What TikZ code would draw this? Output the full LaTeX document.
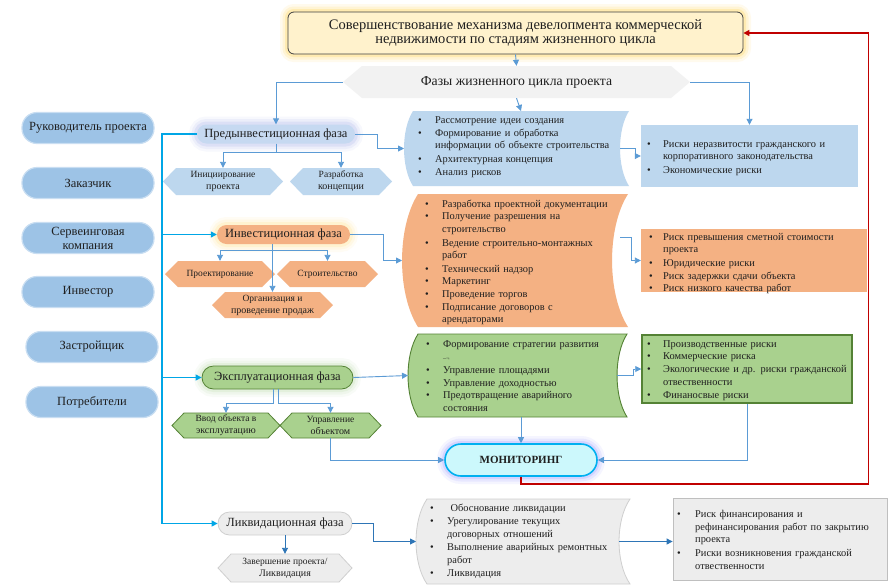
\documentclass[tikz,border=0pt]{standalone}
\usepackage{fontspec}
\setmainfont{Liberation Serif}
\usetikzlibrary{arrows.meta,calc}
\definecolor{cblue}{HTML}{BDD7EE}
\definecolor{cactor}{HTML}{9DC3E6}
\definecolor{cactorb}{HTML}{C9DEF2}
\definecolor{cpred}{HTML}{C6D9F1}
\definecolor{cpredglow}{HTML}{8E9CE6}
\definecolor{corange}{HTML}{F4B183}
\definecolor{cinvglow}{HTML}{FFD966}
\definecolor{cgreen}{HTML}{A9D18E}
\definecolor{cgreenb}{HTML}{548235}
\definecolor{cgray}{HTML}{EDEDED}
\definecolor{cgrayb}{HTML}{CFCFCF}
\definecolor{cline}{HTML}{5B9BD5}
\definecolor{clined}{HTML}{2E75B6}
\definecolor{ctrunk}{HTML}{00A6E6}
\definecolor{cmon}{HTML}{CCF8FC}
\definecolor{cmonb}{HTML}{00B0F0}
\definecolor{cred}{HTML}{C00000}
\definecolor{ctitle}{HTML}{FFF2CC}
\definecolor{ctitleglow}{HTML}{FFC000}
\definecolor{cphase}{HTML}{F2F2F2}
\definecolor{ctext}{HTML}{1F1F1F}
\newcommand\hexfont{\fontsize{9.5}{11}\selectfont}
\newcommand\bitem[2][17pt]{\par\noindent\makebox[#1][l]{\textbullet}\parbox[t]{225pt}{\raggedright\strut#2\strut}}
\newcommand\hexbox[8]{%
  \path[#7] (#2,{(#4+#5)/2}) -- ({#2+#6},#4) -- ({#3-#6},#4) -- (#3,{(#4+#5)/2}) -- ({#3-#6},#5) -- ({#2+#6},#5) -- cycle;
  \node[inner sep=0pt, minimum width={#3-#2}, minimum height={#5-#4}, align=center, text=ctext] (#1) at ({(#2+#3)/2},{(#4+#5)/2}) {#8};}
\newcommand\wavebox[7]{%
  \path[#7] (#2,#4) -- (#3,#4) .. controls ({#3-1.33*#6},{#4+(#5-#4)/4}) and ({#3-1.33*#6},{#5-(#5-#4)/4}) .. (#3,#5) -- (#2,#5) .. controls ({#2-1.33*#6},{#5-(#5-#4)/4}) and ({#2-1.33*#6},{#4+(#5-#4)/4}) .. (#2,#4) -- cycle;
  \coordinate (#1-w) at ({#2-#6},{(#4+#5)/2});
  \coordinate (#1-e) at ({#3-#6},{(#4+#5)/2});
  \coordinate (#1-n) at ({(#2+#3)/2},#4);
  \coordinate (#1-s) at ({(#2+#3)/2},#5);}
\begin{document}
\begin{tikzpicture}[x=1pt,y=-1pt,
  every node/.style={text=ctext},
  conn/.style={draw=cline, line width=0.9pt},
  arr/.style={-{Triangle[length=6pt,width=6pt]}},
  trunk/.style={draw=ctrunk, line width=1.3pt},
  redl/.style={draw=cred, line width=1.5pt},
  glow/.style={preaction={draw=#1,line width=16pt,draw opacity=0.07},
               preaction={draw=#1,line width=11pt,draw opacity=0.10},
               preaction={draw=#1,line width=6pt,draw opacity=0.16}},
  pill/.style={rectangle, inner sep=0pt, align=center, font=\fontsize{12.5}{14}\selectfont},
  actor/.style={pill, fill=cactor, draw=cactorb, line width=1.2pt, minimum width=132, minimum height=31, rounded corners=15},
  rbox/.style={rectangle, inner sep=0pt},
  ltxt/.style={inner sep=0pt, text width=250, align=left, anchor=west, font=\fontsize{10.4}{12.6}\selectfont},
]
\useasboundingbox (0,0) rectangle (896,587);
\fill[white] (0,0) rectangle (896,587);

% title
\node[pill, rounded corners=6, fill=ctitle, draw=black!75, line width=0.8pt, minimum width=455, minimum height=42, glow=ctitleglow, font=\fontsize{14.5}{13.5}\selectfont] (title) at (515.5,33) {Совершенствование механизма девелопмента коммерческой\\недвижимости по стадиям жизненного цикла};

\hexbox{phases}{343}{690}{66}{98}{19}{fill=cphase}{\fontsize{13.7}{14}\selectfont Фазы жизненного цикла проекта}

% actors
\node[actor] (a1) at (88,128) {Руководитель проекта};
\node[actor] (a2) at (88,183) {Заказчик};
\node[actor] (a3) at (88,238) {Сервеинговая\\компания};
\node[actor] (a4) at (88,292) {Инвестор};
\node[actor] (a5) at (92,347) {Застройщик};
\node[actor] (a6) at (92,402) {Потребители};

% phases
\node[pill, fill=cpred, glow=cpredglow, minimum width=158, minimum height=19, rounded corners=9.5] (pred) at (276,134) {Предынвестиционная фаза};
\node[pill, fill=corange, glow=cinvglow, minimum width=133, minimum height=19, rounded corners=9.5] (inv) at (283.5,234.5) {Инвестиционная фаза};
\node[pill, fill=cgreen, draw=cgreenb, line width=0.8pt, glow=cgreen, minimum width=151, minimum height=23, rounded corners=11.5] (exp) at (277.5,377.5) {Эксплуатационная фаза};
\node[pill, fill=cgray, draw=cgrayb, line width=0.8pt, minimum width=134, minimum height=23, rounded corners=11.5] (liq) at (285,523.5) {Ликвидационная фаза};
\node[pill, fill=cmon, draw=cmonb, line width=1.6pt, glow=blue!55, minimum width=152, minimum height=32, rounded corners=16, font=\fontsize{11}{13}\selectfont\bfseries] (mon) at (521,460) {МОНИТОРИНГ};

% sub hexes
\hexbox{iniz}{163}{283}{168}{195}{13}{fill=cblue}{\hexfont Инициирование\\проекта}
\hexbox{razr}{290}{392}{168}{195}{13}{fill=cblue}{\hexfont Разработка\\концепции}
\hexbox{proj}{165}{275}{261}{287}{13}{fill=corange}{\hexfont Проектирование}
\hexbox{stroi}{277}{378}{261}{287}{13}{fill=corange}{\hexfont Строительство}
\hexbox{org}{212}{333}{292}{318}{13}{fill=corange}{\hexfont Организация и\\проведение продаж}
\hexbox{vvod}{172}{280}{413}{438}{12}{fill=cgreen,draw=cgreenb,line width=0.8pt}{\hexfont Ввод объекта в\\эксплуатацию}
\hexbox{upr}{280}{381}{413}{438}{12}{fill=cgreen,draw=cgreenb,line width=0.8pt}{\hexfont Управление\\объектом}
\hexbox{zav}{218}{352}{554}{582}{13}{fill=cgray,draw=cgrayb,line width=0.8pt}{\hexfont Завершение проекта/\\Ликвидация}

% wave boxes
\wavebox{bw}{413}{629}{111}{186}{9}{fill=cblue}
\wavebox{ow}{418}{628}{194}{327}{16}{fill=corange}
\wavebox{gw}{418}{627}{334}{417}{10}{fill=cgreen, draw=cgreenb, line width=0.9pt}
\wavebox{lw}{427}{630}{499}{584}{11}{fill=cgray, draw=cgrayb, line width=0.8pt}

\node[ltxt] (bwt) at (418,145) {\bitem{Рассмотрение идеи создания}\bitem{Формирование и обработка\\информации об объекте строительства}\bitem{Архитектурная концепция}\bitem{Анализ рисков}};
\node[ltxt] (owt) at (425,260.5) {\bitem{Разработка проектной документации}\bitem{Получение разрешения на\\строительство}\bitem{Ведение строительно-монтажных\\работ}\bitem{Технический надзор}\bitem{Маркетинг}\bitem{Проведение торгов}\bitem{Подписание договоров с\\арендаторами}};
\node[ltxt] (gwt) at (426,375) {\bitem{Формирование стратегии развития\\{\fontsize{6}{7}\selectfont --¬}}\bitem{Управление площадями}\bitem{Управление доходностью}\bitem{Предотвращение аварийного\\состояния}};
\node[ltxt] (lwt) at (430,540) {\bitem{\ Обоснование ликвидации}\bitem{Урегулирование текущих\\договорных отношений}\bitem{Выполнение аварийных ремонтных\\работ}\bitem{Ликвидация}};

% risk boxes
\node[rbox, fill=cblue, minimum width=217, minimum height=62] (brisk) at (749.5,156) {};
\node[rbox, fill=corange, minimum width=226, minimum height=63] (orisk) at (754,260.5) {};
\node[rbox, fill=cgreen, draw=cgreenb, line width=1.5pt, minimum width=210, minimum height=68] (grisk) at (747,369) {};
\node[rbox, fill=cgray, draw=black!25, line width=0.8pt, minimum width=214, minimum height=82] (lrisk) at (780,539) {};

\node[ltxt] (brt) at (647,156) {\bitem[16pt]{Риски неразвитости гражданского и\\корпоративного законодательства}\bitem[16pt]{Экономические риски}};
\node[ltxt] (ort) at (649,261.5) {\bitem[14pt]{Риск превышения сметной стоимости\\проекта}\bitem[14pt]{Юридические риски}\bitem[14pt]{Риск задержки сдачи объекта}\bitem[14pt]{Риск низкого качества работ}};
\node[ltxt] (grt) at (647,368.5) {\bitem[16pt]{Производственные риски}\bitem[16pt]{Коммерческие риска}\bitem[16pt]{Экологические и др. риски гражданской\\отвественности}\bitem[16pt]{Финаносвые риски}};
\node[ltxt] (lrt) at (677,539) {\bitem[18pt]{Риск финансирования и\\рефинансирования работ по закрытию\\проекта}\bitem[18pt]{Риски возникновения гражданской\\отвественности}};

% connectors
\draw[conn,arr] (title.south) -- (phases.north);
\draw[conn,arr] (phases.south) -- (bw-n);
\draw[conn,arr] (phases.west) -| (pred.north);
\draw[conn,arr] (phases.east) -| (brisk.north);
\draw[conn,arr] (pred.east) -- ++(22,0) |- (bw-w);
\draw[conn,arr] (bw-e) -- ++(15,0) |- (brisk.west);
\draw[conn,arr] (pred.south) -- ++(0,9) -| (iniz.north);
\draw[conn,arr] (pred.south) -- ++(0,9) -| (razr.north);

\coordinate (tk) at (162,134);
\draw[trunk,arr] (pred.west) -| (tk |- liq.west) -- (liq.west);
\draw[trunk,arr] (tk |- inv.west) -- (inv.west);
\draw[trunk,arr] (tk |- exp.west) -- (exp.west);

\draw[conn,arr] (inv.east) -- ++(33,0) |- (ow-w);
\coordinate (ow-e2) at (620,237);
\draw[conn,arr] (ow-e2) -- ++(11,0) |- (orisk.west);
\draw[conn,arr] (inv.south -| org.north) -- (org.north);
\coordinate (invb) at ($(inv.south)+(0,6)$);
\draw[conn,arr] (invb -| org.north) -| (proj.north);
\draw[conn,arr] (invb -| org.north) -| (stroi.north);

\draw[conn,arr] (exp.east) -- (gw-w);
\draw[conn,arr] (gw-e) -- ++(16,0) |- (grisk.west);
\draw[conn,arr] ($(exp.south)+(-4,0)$) -- ++(0,14) -| (vvod.north);
\draw[conn,arr] ($(exp.south)+(1,0)$) -- ++(0,14) -| (upr.north);
\draw[conn,arr] (upr.south) |- (mon.west);
\draw[conn,arr] (gw-s -| mon.north) -- (mon.north);
\draw[conn,arr] (grisk.south) |- (mon.east);
\draw[redl,arr] (mon.south) -- ++(0,7) -| ($(title.east)+(125,0)$) -- (title.east);

\draw[conn,draw=clined,arr] (liq.south) -- (zav.north);
\draw[conn,draw=clined,arr] (liq.east) -- ++(21,0) |- (lw-w);
\draw[conn,draw=clined,arr] (lw-e) -- (lw-e -| lrisk.west);
\end{tikzpicture}
\end{document}
